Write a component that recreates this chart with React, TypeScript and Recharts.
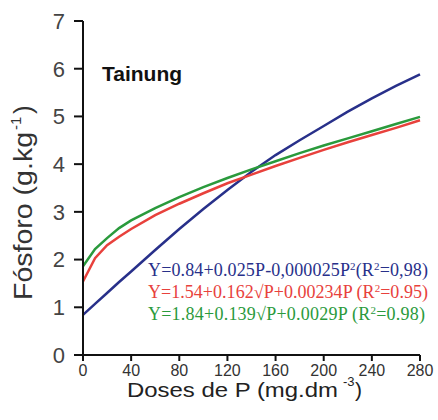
import React from 'react';
import { LineChart, Line, XAxis, YAxis } from 'recharts';

const doses = [0, 10, 20, 30, 40, 60, 80, 100, 120, 140, 160, 180, 200, 220, 240, 260, 280];
const blueSeries = [0.84, 1.07, 1.30, 1.53, 1.75, 2.20, 2.64, 3.06, 3.46, 3.84, 4.19, 4.50, 4.80, 5.10, 5.38, 5.64, 5.88];
const redSeries = [1.54, 2.03, 2.30, 2.48, 2.64, 2.93, 3.17, 3.39, 3.60, 3.78, 3.96, 4.13, 4.30, 4.46, 4.61, 4.76, 4.92];
const greenSeries = [1.86, 2.22, 2.45, 2.66, 2.82, 3.08, 3.31, 3.52, 3.71, 3.89, 4.06, 4.23, 4.39, 4.54, 4.69, 4.84, 4.99];
const xTicks = [0, 40, 80, 120, 160, 200, 240, 280];
const yTicks = [0, 1, 2, 3, 4, 5, 6, 7];

const data = doses.map((p, i) => ({ p, blue: blueSeries[i], red: redSeries[i], green: greenSeries[i] }));

const BLUE = '#28308a';
const RED = '#e8413c';
const GREEN = '#2a9a3c';
const SANS = 'Liberation Sans, Arial, sans-serif';

export default function App() {
  return (
    <div style={{ position: 'absolute', left: 0, top: 0, width: 438, height: 420, background: '#fff' }}>
      <LineChart width={438} height={420} data={data} margin={{ top: 21, right: 18, bottom: 0, left: 0 }}>
        <XAxis
          dataKey="p"
          type="number"
          domain={[0, 280]}
          ticks={xTicks}
          height={65}
          tickSize={6}
          tickMargin={4}
          stroke="#111"
          strokeWidth={2}
          tick={{ fill: '#333', fontSize: 16, fontFamily: SANS }}
          tickLine={{ stroke: '#111', strokeWidth: 2 }}
        />
        <YAxis
          type="number"
          domain={[0, 7]}
          ticks={yTicks}
          width={83}
          tickSize={9}
          tickMargin={9}
          stroke="#111"
          strokeWidth={2}
          tick={{ fill: '#444', fontSize: 22, fontFamily: SANS }}
          tickLine={{ stroke: '#111', strokeWidth: 2 }}
        />
        <Line type="linear" dataKey="blue" stroke={BLUE} strokeWidth={2.5} dot={false} isAnimationActive={false} />
        <Line type="linear" dataKey="red" stroke={RED} strokeWidth={2.5} dot={false} isAnimationActive={false} />
        <Line type="linear" dataKey="green" stroke={GREEN} strokeWidth={2.5} dot={false} isAnimationActive={false} />
        <text x={102} y={81} fontSize={21} fontWeight="bold" fontFamily={SANS} fill="#111">Tainung</text>
        <g transform="translate(32,300) rotate(-90)" fontFamily={SANS} fill="#333">
          <text x={0} y={0} fontSize={26} textLength={168} lengthAdjust="spacingAndGlyphs">Fósforo (g.kg</text>
          <text x={170} y={-11} fontSize={15}>-1</text>
          <text x={186} y={0} fontSize={26}>)</text>
        </g>
        <g fontFamily={SANS} fill="#222">
          <text x={127} y={397} fontSize={21} textLength={211} lengthAdjust="spacingAndGlyphs">Doses de P (mg.dm</text>
          <text x={343} y={386} fontSize={13}>-3</text>
          <text x={355} y={397} fontSize={21}>)</text>
        </g>
        <g fontFamily="Liberation Serif, Times New Roman, serif" fontSize={18}>
          <text x={148} y={276} fill={BLUE} textLength={280} lengthAdjust="spacing">
            Y=0.84+0.025P-0,000025P<tspan dy={-6} fontSize={11}>2</tspan><tspan dy={6}>(R</tspan><tspan dy={-6} fontSize={11}>2</tspan><tspan dy={6}>=0,98)</tspan>
          </text>
          <text x={148} y={298} fill={RED} textLength={280} lengthAdjust="spacing">
            Y=1.54+0.162√P+0.00234P (R<tspan dy={-6} fontSize={11}>2</tspan><tspan dy={6}>=0.95)</tspan>
          </text>
          <text x={148} y={320} fill={GREEN} textLength={277} lengthAdjust="spacing">
            Y=1.84+0.139√P+0.0029P (R<tspan dy={-6} fontSize={11}>2</tspan><tspan dy={6}>=0.98)</tspan>
          </text>
        </g>
      </LineChart>
    </div>
  );
}
